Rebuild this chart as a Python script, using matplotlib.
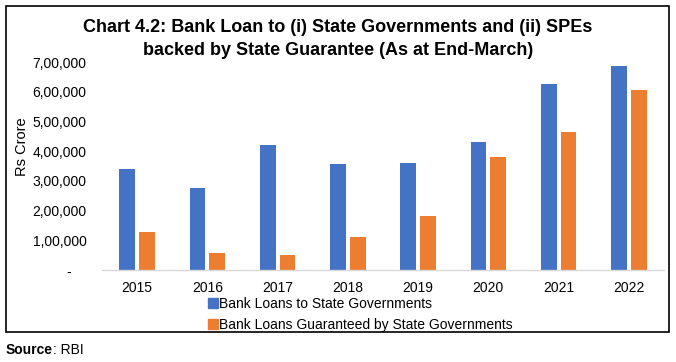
import numpy as np
import matplotlib
matplotlib.use("Agg")
from matplotlib import pyplot as plt
from matplotlib.lines import Line2D
from matplotlib.patches import Rectangle

plt.rcParams['font.family'] = ['Liberation Sans', 'DejaVu Sans']

years = ['2015', '2016', '2017', '2018', '2019', '2020', '2021', '2022']
loans_states = [340000, 275000, 420000, 358000, 359000, 432000, 627000, 687000]
loans_guaranteed = [129000, 58000, 50000, 110000, 183000, 379000, 464000, 605000]
yticks = [0, 100000, 200000, 300000, 400000, 500000, 600000, 700000]
ytick_labels = ['-    ', '1,00,000', '2,00,000', '3,00,000', '4,00,000',
                '5,00,000', '6,00,000', '7,00,000']

blue = '#4472C4'
orange = '#ED7D31'


def main():
    fig = plt.figure(figsize=(6.76, 3.62), dpi=100)
    ax = fig.add_axes([0.1509, 0.2541, 0.8313, 0.5746])

    x = np.arange(len(years))
    w = 0.225
    ax.bar(x - 0.14, loans_states, w, color=blue)
    ax.bar(x + 0.14, loans_guaranteed, w, color=orange)

    ax.set_xlim(-0.5, len(years) - 0.5)
    ax.set_ylim(0, 700000)
    ax.set_yticks(yticks)
    ax.set_yticklabels(ytick_labels)
    ax.set_xticks(x)
    ax.set_xticklabels(years)
    ax.tick_params(axis='y', length=0, pad=11, labelsize=10, colors='#000000')
    ax.tick_params(axis='x', length=0, pad=8, labelsize=10)
    for s in ['top', 'right', 'left']:
        ax.spines[s].set_visible(False)
    ax.spines['bottom'].set_color('#D9D9D9')
    ax.spines['bottom'].set_linewidth(1)

    fig.text(0.032, 1 - 147 / 362, 'Rs Crore', rotation=90,
             ha='center', va='center', fontsize=10.5)

    fig.text(0.5, 1 - 39 / 362,
             'Chart 4.2: Bank Loan to (i) State Governments and (ii) SPEs\n'
             'backed by State Guarantee (As at End-March)',
             ha='center', va='center', fontsize=13, fontweight='bold',
             linespacing=1.45)

    handles = [Line2D([], [], marker='s', ls='', color=blue, markersize=7),
               Line2D([], [], marker='s', ls='', color=orange, markersize=7)]
    fig.legend(handles, ['Bank Loans to State Governments',
                         'Bank Loans Guaranteed by State Governments'],
               loc='upper left', bbox_to_anchor=(209 / 676, 1 - 297 / 362),
               frameon=False, fontsize=10, handlelength=0.6,
               handletextpad=0.15, labelspacing=0.5, borderpad=0,
               borderaxespad=0)

    fig.patches.append(Rectangle((6 / 676, 1 - 332 / 362), 663 / 676, 326 / 362,
                                 transform=fig.transFigure, fill=False,
                                 edgecolor='black', linewidth=1.2))

    src = fig.text(6 / 676, 1 - 350 / 362, 'Source', fontweight='bold',
                   fontsize=10, va='center', ha='left')
    fig.canvas.draw()
    bb = src.get_window_extent()
    fig.text(bb.x1 / fig.bbox.width, 1 - 350 / 362, ': RBI', fontsize=10,
             va='center', ha='left')

    fig.savefig('out.png', dpi=100)


if __name__ == '__main__':
    main()
